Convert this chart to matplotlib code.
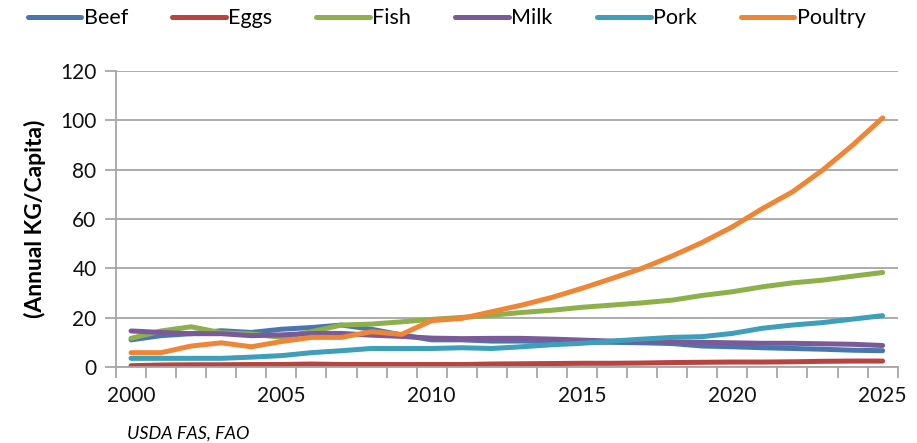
import matplotlib.pyplot as plt
from matplotlib.ticker import MultipleLocator

years = list(range(2000, 2026))
beef = [11.0, 12.7, 13.5, 14.7, 14.0, 15.3, 16.0, 17.0, 15.3, 13.0, 11.0, 11.0,
        10.5, 10.5, 10.3, 10.0, 10.0, 9.8, 9.5, 8.5, 8.2, 7.8, 7.5, 7.2, 6.8, 6.6]
eggs = [0.5, 0.8, 0.9, 0.9, 1.0, 1.0, 1.2, 1.0, 1.0, 1.0, 1.0, 1.0, 1.2, 1.3,
        1.4, 1.5, 1.5, 1.6, 1.8, 1.9, 2.0, 2.0, 2.1, 2.3, 2.4, 2.4]
fish = [11.6, 14.6, 16.3, 13.9, 13.4, 12.0, 14.3, 17.0, 17.4, 18.3, 19.3, 20.1,
        21.0, 22.1, 23.0, 24.2, 25.1, 26.0, 27.1, 29.0, 30.5, 32.5, 34.1, 35.2, 36.8, 38.3]
milk = [14.6, 14.0, 13.5, 13.5, 12.7, 13.0, 13.6, 13.6, 12.9, 12.4, 11.7, 11.5,
        11.6, 11.6, 11.3, 10.9, 10.5, 10.5, 10.1, 10.0, 9.8, 9.6, 9.6, 9.4, 9.2, 8.7]
pork = [3.5, 3.5, 3.5, 3.5, 4.0, 4.6, 5.8, 6.6, 7.5, 7.5, 7.5, 7.8,
        7.5, 8.2, 9.0, 9.6, 10.5, 11.3, 12.0, 12.3, 13.6, 15.7, 17.0, 18.0, 19.4, 20.8]
poultry = [5.8, 5.8, 8.5, 9.8, 8.2, 10.3, 12.0, 12.0, 14.3, 13.2, 18.8, 19.7,
           22.4, 25.1, 28.2, 31.9, 35.9, 40.0, 45.0, 50.5, 56.8, 64.2, 71.0, 79.8, 89.9, 101.0]

series = [("Beef", beef, "#4a76b0"), ("Eggs", eggs, "#b8433f"),
          ("Fish", fish, "#8db04a"), ("Milk", milk, "#7a5a98"),
          ("Pork", pork, "#3d9fba"), ("Poultry", poultry, "#ee8636")]

plt.rcParams['font.family'] = ['Lato', 'DejaVu Sans']

fig = plt.figure(figsize=(9.17, 4.43), dpi=100)
ax = fig.add_axes([0.1265, 0.1716, 0.8524, 0.6681])

x = list(range(len(years)))
for name, vals, col in series:
    ax.plot(x, vals, color=col, linewidth=3.6, label=name, solid_capstyle='round')

ax.set_ylim(0, 120)
ax.set_xlim(-0.5, len(years) - 0.5)
ax.yaxis.set_major_locator(MultipleLocator(20))
ax.grid(axis='y', color='#a6a6a6', linewidth=1.3)
ax.set_axisbelow(True)

ax.set_xticks(x[::5])
ax.set_xticklabels([str(y) for y in years[::5]])
ax.set_xticks([i - 0.5 for i in range(len(years) + 1)], minor=True)
ax.tick_params(axis='x', which='major', length=0, pad=14, labelsize=15, labelcolor='#111111')
ax.tick_params(axis='x', which='minor', length=8, width=1.3, color='#a6a6a6')
ax.tick_params(axis='y', length=8, width=1.3, color='#a6a6a6', labelsize=15, pad=6,
               labelcolor='#111111')

for s in ['top', 'right']:
    ax.spines[s].set_visible(False)
for s in ['left', 'bottom']:
    ax.spines[s].set_color('#a6a6a6')
    ax.spines[s].set_linewidth(1.3)

ax.set_ylabel("(Annual KG/Capita)", fontsize=16.5, fontweight='bold', labelpad=10)

fig.legend(loc='upper center', bbox_to_anchor=(0.487, 1.025), ncol=6, frameon=False,
           fontsize=15.5, handlelength=2.5, handletextpad=0.1, columnspacing=2.05)

fig.text(0.139, 0.022, "USDA FAS, FAO", fontsize=13, style='italic', va='center')

plt.savefig('out.png', dpi=100)
